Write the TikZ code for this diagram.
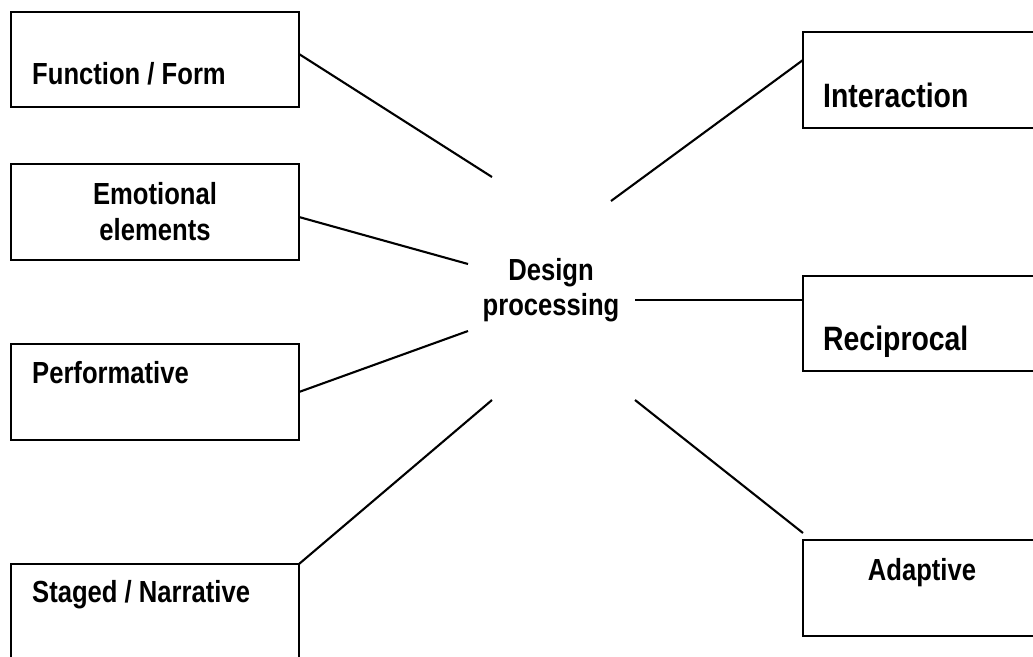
\documentclass[tikz,border=0pt]{standalone}
\usepackage{fontspec}
\setmainfont[FakeStretch=0.84,BoldFont={Liberation Sans Bold}]{Liberation Sans}
\begin{document}
\begin{tikzpicture}[x=1pt,y=-1pt,
  boxline/.style={draw=black,line width=2.1pt},
  link/.style={draw=black,line width=2.1pt},
  lbl/.style={inner sep=0pt,font=\fontsize{30.5}{35}\selectfont\bfseries},
  biglbl/.style={inner sep=0pt,anchor=base west,font=\fontsize{33.8}{39}\selectfont\bfseries},
  lblw/.style={lbl,anchor=base west}]
\clip (0,0) rectangle (1033,656);
\useasboundingbox (0,0) rectangle (1033,656);
% boxes
\draw[boxline] (11,12) rectangle (299,107);
\draw[boxline] (11,164) rectangle (299,260);
\draw[boxline] (11,344) rectangle (299,440);
\draw[boxline] (11,564) rectangle (299,700);
\draw[boxline] (803,32) rectangle (1100,128);
\draw[boxline] (803,276) rectangle (1100,371);
\draw[boxline] (803,540) rectangle (1100,636);
% labels
\node[lblw] (ff) at (32,84) {Function / Form};
\node[lbl,anchor=base] (em1) at (155,204) {Emotional};
\node[lbl,anchor=base] (em2) at (155,240) {elements};
\node[lblw] (pf) at (32,383) {Performative};
\node[lblw] (sn) at (32,602) {Staged / Narrative};
\node[biglbl] (ia) at (823,107) {Interaction};
\node[biglbl] (rc) at (823,350) {Reciprocal};
\node[lbl,anchor=base] (ad) at (922,580) {Adaptive};
\node[lbl,anchor=base] (d1) at (551,280) {Design};
\node[lbl,anchor=base] (d2) at (551,315) {processing};
% connector end points
\coordinate (a1) at (299,54);  \coordinate (b1) at (492,177);
\coordinate (a2) at (299,217); \coordinate (b2) at (468,264);
\coordinate (a3) at (299,392); \coordinate (b3) at (468,331);
\coordinate (a4) at (299,564); \coordinate (b4) at (492,400);
\coordinate (a5) at (803,60);  \coordinate (b5) at (611,201);
\coordinate (a6) at (803,300); \coordinate (b6) at (635,300);
\coordinate (a7) at (803,533); \coordinate (b7) at (635,400);
\foreach \i in {1,...,7} {\draw[link] (a\i) -- (b\i);}
\end{tikzpicture}
\end{document}
